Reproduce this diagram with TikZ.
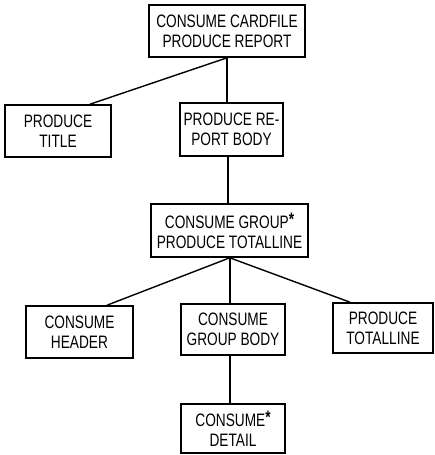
\documentclass[tikz,border=0pt]{standalone}
\usepackage{fontspec}
\setmainfont{Liberation Sans}[FakeStretch=0.76]
\newcommand{\rep}{\raisebox{3pt}{\bfseries *}}
\begin{document}
\begin{tikzpicture}[x=1pt,y=-1pt,
  box/.style={draw,line width=1.6pt,inner sep=0pt,align=center,
    font=\fontsize{18}{20}\selectfont},
  link/.style={line width=1.4pt}]
\useasboundingbox (0,0) rectangle (434,455);
% level 1
\node[box,minimum width=156pt,minimum height=52pt] (top) at (227,31)
  {CONSUME CARDFILE\\PRODUCE REPORT};
% level 2
\node[box,minimum width=106pt,minimum height=52pt] (title) at (58,131)
  {PRODUCE\\TITLE};
\node[box,minimum width=103pt,minimum height=53pt] (rbody) at (231.5,129.5)
  {PRODUCE RE-\\PORT BODY};
% level 3
\node[box,minimum width=157pt,minimum height=53pt] (group) at (229.5,230.5)
  {CONSUME GROUP\rep\\PRODUCE TOTALLINE};
% level 4
\node[box,minimum width=107pt,minimum height=52pt] (header) at (79.5,332)
  {CONSUME\\HEADER};
\node[box,minimum width=104pt,minimum height=51pt] (gbody) at (233,329.5)
  {CONSUME\\GROUP BODY};
\node[box,minimum width=100pt,minimum height=50pt] (total) at (383,328)
  {PRODUCE\\TOTALLINE};
% level 5
\node[box,minimum width=104pt,minimum height=49pt] (detail) at (233,428.5)
  {CONSUME\rep\\DETAIL};
% connectors
\coordinate (topjoin) at (top.south);
\draw[link] (topjoin) -- ([xshift=32pt]title.north);
\draw[link] (topjoin) -- (topjoin |- rbody.north);
\coordinate (rbjoin) at ([xshift=-3.5pt]rbody.south);
\draw[link] (rbjoin) -- (rbjoin |- group.north);
\coordinate (gjoin) at ([xshift=0.3pt]group.south);
\draw[link] (gjoin) -- ([xshift=27.5pt]header.north);
\draw[link] (gjoin) -- (gjoin |- gbody.north);
\draw[link] (gjoin) -- ([xshift=-33pt]total.north);
\coordinate (gbjoin) at ([xshift=-3pt]gbody.south);
\draw[link] (gbjoin) -- (gbjoin |- detail.north);
\end{tikzpicture}
\end{document}
